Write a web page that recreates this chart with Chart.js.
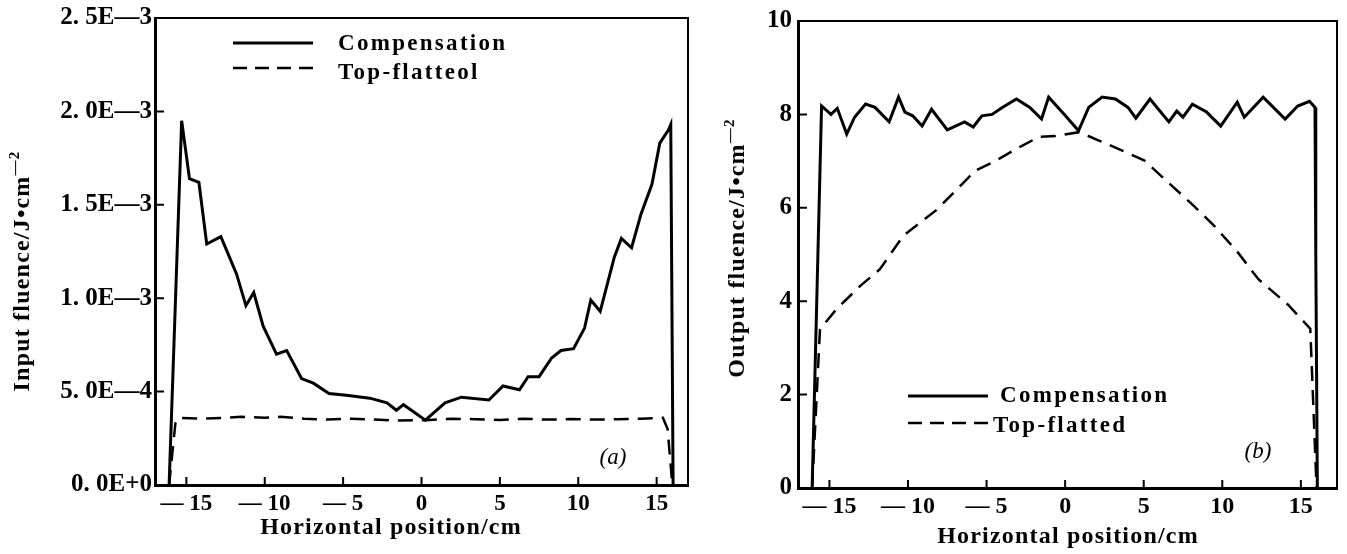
<!DOCTYPE html>
<html lang="en">
<head>
<meta charset="UTF-8" />
<title>Input and output fluence</title>
<script src="https://cdn.jsdelivr.net/npm/chart.js"></script>
<style>
  body { margin: 0; background: #fff; }
  .panel { position: absolute; top: 0; }
</style>
</head>
<body>
<div class="panel" style="left:0"><canvas id="chartA" width="700" height="554"></canvas></div>
<div class="panel" style="left:700px"><canvas id="chartB" width="647" height="554"></canvas></div>
<script>
// (a) input fluence, J/cm^2
const posCompA = [-16.1, -15.3, -14.8, -14.2, -13.7, -12.8, -11.8, -11.2, -10.7, -10.1, -9.25, -8.6, -7.65, -6.9, -5.9, -4.8, -3.3, -2.2, -1.6, -1.15, 0.25, 1.5, 2.55, 4.3, 5.2, 6.25, 6.8, 7.5, 8.3, 8.9, 9.7, 10.4, 10.8, 11.4, 12.3, 12.75, 13.4, 14.0, 14.7, 15.2, 15.75, 15.9, 16.05];
const fluCompA = [0, 1.95e-3, 1.64e-3, 1.62e-3, 1.29e-3, 1.33e-3, 1.13e-3, 0.96e-3, 1.03e-3, 0.85e-3, 0.70e-3, 0.72e-3, 0.57e-3, 0.545e-3, 0.49e-3, 0.48e-3, 0.465e-3, 0.44e-3, 0.40e-3, 0.43e-3, 0.347e-3, 0.44e-3, 0.47e-3, 0.455e-3, 0.53e-3, 0.51e-3, 0.58e-3, 0.58e-3, 0.68e-3, 0.72e-3, 0.73e-3, 0.84e-3, 0.99e-3, 0.93e-3, 1.22e-3, 1.32e-3, 1.27e-3, 1.45e-3, 1.61e-3, 1.83e-3, 1.90e-3, 1.93e-3, 0];
const posFlatA = [-16.1, -15.7, -15.5, -14, -12.5, -11.5, -10, -9, -7.5, -6, -4.5, -3, -1.5, 0.3, 2, 3.5, 5, 6.5, 8, 9.5, 11, 12.5, 14, 15.4, 15.7, 16.0];
const fluFlatA = [0, 0.33e-3, 0.36e-3, 0.355e-3, 0.36e-3, 0.365e-3, 0.36e-3, 0.365e-3, 0.355e-3, 0.35e-3, 0.355e-3, 0.35e-3, 0.345e-3, 0.347e-3, 0.355e-3, 0.352e-3, 0.348e-3, 0.355e-3, 0.35e-3, 0.353e-3, 0.35e-3, 0.352e-3, 0.355e-3, 0.36e-3, 0.3e-3, 0];

// (b) output fluence, J/cm^2
const posCompB = [-16.1, -15.5, -14.9, -14.5, -13.9, -13.4, -12.7, -12.1, -11.2, -10.6, -10.2, -9.7, -9.1, -8.5, -7.5, -6.4, -5.85, -5.3, -4.65, -4.0, -3.1, -2.25, -1.5, -1.05, -0.05, 0.85, 1.5, 2.35, 3.2, 4.0, 4.5, 5.4, 6.6, 7.1, 7.5, 8.1, 9.0, 9.9, 10.95, 11.4, 12.6, 14.0, 14.8, 15.55, 15.9, 15.95, 16.05];
const fluCompB = [0, 8.18, 8.0, 8.13, 7.58, 7.94, 8.22, 8.15, 7.84, 8.37, 8.05, 7.97, 7.75, 8.11, 7.67, 7.84, 7.73, 7.97, 8.0, 8.15, 8.33, 8.15, 7.9, 8.37, 8.0, 7.65, 8.15, 8.37, 8.33, 8.15, 7.92, 8.33, 7.84, 8.07, 7.94, 8.22, 8.05, 7.75, 8.26, 7.94, 8.37, 7.9, 8.18, 8.28, 8.15, 5.0, 0];
const posFlatB = [-16.1, -15.6, -14.55, -13.0, -11.8, -10.3, -8.2, -6.7, -5.7, -4.4, -2.9, -1.65, -0.6, 0.9, 2.15, 3.6, 5.05, 6.6, 8.0, 9.5, 11.0, 12.3, 14.2, 15.6, 16.0];
const fluFlatB = [0, 3.4, 3.83, 4.34, 4.68, 5.4, 5.95, 6.46, 6.8, 7.01, 7.3, 7.52, 7.54, 7.62, 7.44, 7.23, 7.01, 6.53, 6.1, 5.61, 5.04, 4.47, 3.92, 3.41, 0];

const xTicks = [-15, -10, -5, 0, 5, 10, 15];
const xTickLabels = ['— 15', '— 10', '— 5', '0', '5', '10', '15'];
const yTicksA = [0, 5e-4, 1e-3, 1.5e-3, 2e-3, 2.5e-3];
const yTickLabelsA = ['0. 0E+0', '5. 0E—4', '1. 0E—3', '1. 5E—3', '2. 0E—3', '2. 5E—3'];
const yTicksB = [0, 2, 4, 6, 8, 10];
const yTickLabelsB = ['0', '2', '4', '6', '8', '10'];

const serif = "'Liberation Serif', 'DejaVu Serif', serif";

function toPoints(xs, ys) {
  return xs.map((x, i) => ({ x: x, y: ys[i] }));
}

function drawTitle(ctx, text, sup, cx, cy, rot) {
  ctx.save();
  ctx.translate(cx, cy);
  ctx.rotate(rot);
  ctx.letterSpacing = '1.2px';
  ctx.font = 'bold 24px ' + serif;
  const w1 = ctx.measureText(text).width;
  ctx.font = 'bold 15px ' + serif;
  const w2 = sup ? ctx.measureText(sup).width : 0;
  const x0 = -(w1 + w2) / 2;
  ctx.textAlign = 'left';
  ctx.textBaseline = 'middle';
  ctx.font = 'bold 24px ' + serif;
  ctx.fillText(text, x0, 0);
  if (sup) {
    ctx.font = 'bold 15px ' + serif;
    ctx.fillText(sup, x0 + w1, -8);
  }
  ctx.restore();
}

function decor(cfg) {
  return {
    id: 'decor',
    afterDraw(chart) {
      const ctx = chart.ctx;
      const a = chart.chartArea;
      const sx = chart.scales.x, sy = chart.scales.y;
      ctx.save();
      ctx.strokeStyle = '#000';
      ctx.fillStyle = '#000';
      // top and right frame
      ctx.lineWidth = 2;
      ctx.beginPath();
      ctx.moveTo(a.left, a.top);
      ctx.lineTo(a.right, a.top);
      ctx.lineTo(a.right, a.bottom);
      ctx.stroke();
      // inward ticks
      ctx.beginPath();
      sx.ticks.forEach(t => {
        const p = sx.getPixelForValue(t.value);
        ctx.moveTo(p, a.bottom);
        ctx.lineTo(p, a.bottom - 8);
      });
      sy.ticks.forEach(t => {
        const p = sy.getPixelForValue(t.value);
        ctx.moveTo(a.left, p);
        ctx.lineTo(a.left + 9, p);
      });
      ctx.stroke();
      // legend
      cfg.legend.forEach(it => {
        ctx.lineWidth = it.dash.length ? 2.5 : 3;
        ctx.setLineDash(it.dash);
        ctx.beginPath();
        ctx.moveTo(it.x0, it.y);
        ctx.lineTo(it.x1, it.y);
        ctx.stroke();
        ctx.setLineDash([]);
        ctx.letterSpacing = '2.3px';
        ctx.font = 'bold 23px ' + serif;
        ctx.textAlign = 'left';
        ctx.textBaseline = 'middle';
        ctx.fillText(it.label, it.tx, it.ty);
      });
      ctx.letterSpacing = '0px';
      // panel tag
      ctx.font = 'italic 23px ' + serif;
      ctx.textAlign = 'center';
      ctx.fillText(cfg.tag.text, cfg.tag.x, cfg.tag.y);
      ctx.restore();
      drawTitle(ctx, cfg.yTitle.text, '—2', cfg.yTitle.x, cfg.yTitle.y, -Math.PI / 2);
      drawTitle(ctx, cfg.xTitle.text, '', cfg.xTitle.x, cfg.xTitle.y, 0);
    }
  };
}

function makeChart(id, comp, flat, yMin, yMax, yTicks, yLabels, box, cfg) {
  return new Chart(document.getElementById(id), {
    type: 'line',
    data: {
      datasets: [
        { label: 'Compensation', data: comp, borderColor: '#000', borderWidth: 3, pointRadius: 0, tension: 0, fill: false },
        { label: cfg.flatLabel, data: flat, borderColor: '#000', borderWidth: 2.5, borderDash: [15, 9], pointRadius: 0, tension: 0, fill: false }
      ]
    },
    options: {
      responsive: false,
      animation: false,
      devicePixelRatio: 1,
      layout: { padding: { left: 0, top: box.top, right: box.right, bottom: 0 } },
      plugins: { legend: { display: false }, tooltip: { enabled: false } },
      scales: {
        x: {
          type: 'linear', min: -17, max: box.xMax,
          afterBuildTicks: s => { s.ticks = xTicks.map(v => ({ value: v })); },
          afterFit: s => { s.height = box.xHeight; },
          grid: { display: false, drawTicks: false },
          border: { display: true, color: '#000', width: 3 },
          ticks: {
            color: '#000', padding: box.xPad, maxRotation: 0, autoSkip: false,
            font: { family: serif, size: box.xFont, weight: 'bold' },
            callback: (v, i) => xTickLabels[i]
          }
        },
        y: {
          type: 'linear', min: yMin, max: yMax,
          afterBuildTicks: s => { s.ticks = yTicks.map(v => ({ value: v })); },
          afterFit: s => { s.width = box.yWidth; },
          grid: { display: false, drawTicks: false },
          border: { display: true, color: '#000', width: 3 },
          ticks: {
            color: '#000', padding: box.yPad, autoSkip: false,
            font: { family: serif, size: 25, weight: 'bold' },
            callback: (v, i) => yLabels[i]
          }
        }
      }
    },
    plugins: [decor(cfg)]
  });
}

makeChart('chartA', toPoints(posCompA, fluCompA), toPoints(posFlatA, fluFlatA), 0, 2.5e-3, yTicksA, yTickLabelsA,
  { top: 17, right: 12, xHeight: 69, yWidth: 155, xPad: 5, yPad: 3, xFont: 23, xMax: 17 },
  {
    flatLabel: 'Top-flatteol',
    legend: [
      { label: 'Compensation', dash: [], x0: 233, x1: 313, y: 43, tx: 338, ty: 44 },
      { label: 'Top-flatteol', dash: [14, 8], x0: 233, x1: 313, y: 68, tx: 338, ty: 73 }
    ],
    tag: { text: '(a)', x: 613, y: 458 },
    yTitle: { text: 'Input fluence/J•cm', x: 23, y: 271 },
    xTitle: { text: 'Horizontal position/cm', x: 391, y: 528 }
  });

makeChart('chartB', toPoints(posCompB, fluCompB), toPoints(posFlatB, fluFlatB), 0, 10, yTicksB, yTickLabelsB,
  { top: 16, right: 10, xHeight: 66, yWidth: 98, xPad: 4, yPad: 6, xFont: 24, xMax: 17.3 },
  {
    flatLabel: 'Top-flatted',
    legend: [
      { label: 'Compensation', dash: [], x0: 208, x1: 288, y: 396, tx: 300, ty: 396 },
      { label: 'Top-flatted', dash: [14, 8], x0: 208, x1: 293, y: 423, tx: 293, ty: 426 }
    ],
    tag: { text: '(b)', x: 558, y: 452 },
    yTitle: { text: 'Output fluence/J•cm', x: 38, y: 248 },
    xTitle: { text: 'Horizontal position/cm', x: 368, y: 537 }
  });
</script>
</body>
</html>
